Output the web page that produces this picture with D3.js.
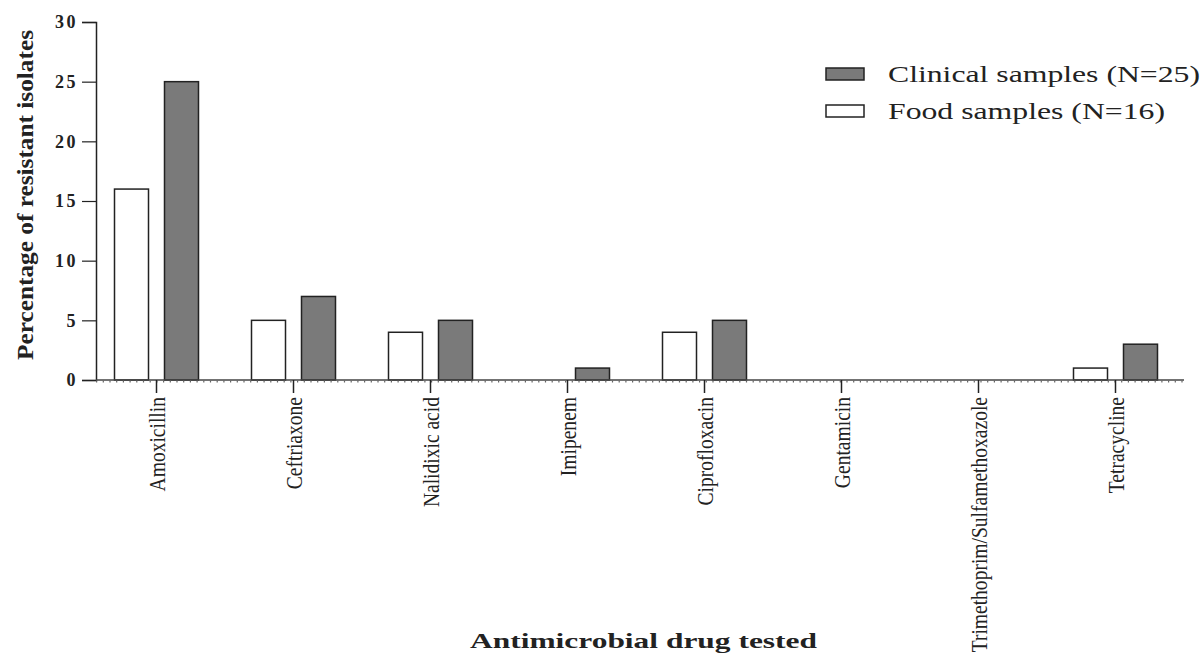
<!DOCTYPE html>
<html>
<head>
<meta charset="utf-8">
<script src="https://cdn.jsdelivr.net/npm/d3@7"></script>
<style>
  body { margin: 0; background: #fff; }
  text { font-family: "Liberation Serif", "Times New Roman", serif; fill: #222; }
</style>
</head>
<body>
<div id="chart"></div>
<script>
// data
var drugs = ["Amoxicillin", "Ceftriaxone", "Nalidixic acid", "Imipenem",
             "Ciprofloxacin", "Gentamicin", "Trimethoprim/Sulfamethoxazole", "Tetracycline"];
var seriesNames = ["Food samples (N=16)", "Clinical samples (N=25)"];
var foodValues = [16, 5, 4, 0, 4, 0, 0, 1];
var clinicalValues = [25, 7, 5, 1, 5, 0, 0, 3];
var yTicks = [0, 5, 10, 15, 20, 25, 30];
var fills = ["#ffffff", "#7a7a7a"];

var width = 1203, height = 661;
var axisLeft = 96, axisRight = 1184, yTop = 22, yBottom = 380;

var svg = d3.select("#chart").append("svg")
    .attr("width", width)
    .attr("height", height);

var x0 = d3.scaleBand().domain(drugs).range([88, 1184]).padding(0);
var x1 = d3.scaleBand().domain([0, 1]).range([0, 84]).paddingInner(0.32);
var y = d3.scaleLinear().domain([0, 30]).range([yBottom, yTop]);

// y axis
var yAxis = svg.append("g")
    .attr("transform", "translate(" + axisLeft + ",0)")
    .call(d3.axisLeft(y).tickValues(yTicks).tickSize(14).tickPadding(4));
yAxis.select(".domain").attr("stroke", "#222").attr("stroke-width", 1.5);
yAxis.selectAll(".tick line").attr("stroke", "#222").attr("stroke-width", 1.2);
yAxis.selectAll(".tick text")
    .style("font-size", "18px")
    .style("font-weight", "bold")
    .style("letter-spacing", "2.5px");

// bars
var groups = svg.append("g").selectAll("g")
    .data(drugs)
    .enter().append("g")
    .attr("transform", function(d) { return "translate(" + (x0(d) + x0.bandwidth() / 2 - 42) + ",0)"; });

groups.selectAll("rect")
    .data(function(d, i) { return [foodValues[i], clinicalValues[i]]; })
    .enter().append("rect")
    .attr("x", function(d, j) { return x1(j); })
    .attr("y", function(d) { return y(d); })
    .attr("width", x1.bandwidth())
    .attr("height", function(d) { return yBottom - y(d); })
    .attr("fill", function(d, j) { return fills[j]; })
    .attr("stroke", "#222")
    .attr("stroke-width", 1.5)
    .style("display", function(d) { return d > 0 ? null : "none"; });

// x axis
svg.append("line")
    .attr("x1", axisLeft).attr("x2", axisRight)
    .attr("y1", yBottom).attr("y2", yBottom)
    .attr("stroke", "#444").attr("stroke-width", 1.5);
svg.append("line")
    .attr("x1", axisLeft).attr("x2", axisRight)
    .attr("y1", yBottom + 1.5).attr("y2", yBottom + 1.5)
    .attr("stroke", "#666").attr("stroke-width", 2)
    .attr("stroke-dasharray", "1.2,5.5");

var xAxis = svg.append("g")
    .attr("transform", "translate(0," + yBottom + ")")
    .call(d3.axisBottom(x0).tickSize(13).tickPadding(6));
xAxis.select(".domain").remove();
xAxis.selectAll(".tick line").attr("stroke", "#222").attr("stroke-width", 1.5);
xAxis.selectAll(".tick text")
    .attr("transform", "translate(0,17) rotate(-90) scale(0.85,1)")
    .attr("x", 0)
    .attr("y", 0)
    .attr("dy", "0.35em")
    .style("text-anchor", "end")
    .style("font-size", "23px");

// axis titles
svg.append("text")
    .attr("transform", "translate(33,195) rotate(-90)")
    .attr("text-anchor", "middle")
    .attr("textLength", 330)
    .attr("lengthAdjust", "spacingAndGlyphs")
    .style("font-size", "23px")
    .style("font-weight", "bold")
    .text("Percentage of resistant isolates");

svg.append("text")
    .attr("x", 470).attr("y", 648)
    .attr("textLength", 347)
    .attr("lengthAdjust", "spacingAndGlyphs")
    .style("font-size", "22px")
    .style("font-weight", "bold")
    .text("Antimicrobial drug tested");

// legend (clinical first, as in the figure)
var legendWidths = [277, 312];
var legend = svg.append("g").selectAll("g")
    .data([1, 0])
    .enter().append("g")
    .attr("transform", function(d, i) { return "translate(826," + (68 + i * 37) + ")"; });
legend.append("rect")
    .attr("width", 38).attr("height", 12)
    .attr("fill", function(d) { return fills[d]; })
    .attr("stroke", "#222").attr("stroke-width", 1.5);
legend.append("text")
    .attr("x", 62).attr("y", 14)
    .attr("textLength", function(d) { return legendWidths[d]; })
    .attr("lengthAdjust", "spacingAndGlyphs")
    .style("font-size", "23px")
    .text(function(d) { return seriesNames[d]; });
</script>
</body>
</html>
